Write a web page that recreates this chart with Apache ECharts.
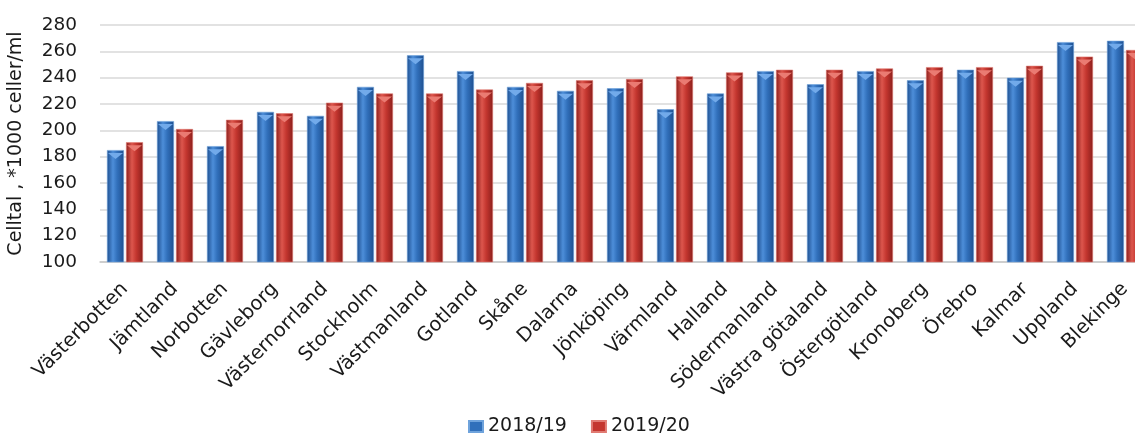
<!DOCTYPE html>
<html>
<head>
<meta charset="utf-8">
<script src="https://cdn.jsdelivr.net/npm/echarts@6/dist/echarts.min.js"></script>
<style>
html,body{margin:0;padding:0;background:#fff;}
#chart{width:1135px;height:434px;}
</style>
</head>
<body>
<div id="chart"></div>
<script>
var categories = ['Västerbotten','Jämtland','Norbotten','Gävleborg','Västernorrland','Stockholm','Västmanland','Gotland','Skåne','Dalarna','Jönköping','Värmland','Halland','Södermanland','Västra götaland','Östergötland','Kronoberg','Örebro','Kalmar','Uppland','Blekinge'];
var values2018 = [185,207,188,214,211,233,257,245,233,230,232,216,228,245,235,245,238,246,240,267,268];
var values2019 = [191,201,208,213,221,228,228,231,236,238,239,241,244,246,246,247,248,248,249,256,261];
var seriesNames = ['2018/19','2019/20'];
var yTicks = {min:100, max:280, interval:20};
var yTitle = 'Celltal , *1000 celler/ml';

function grad(dark, mid, light){
  return new echarts.graphic.LinearGradient(0,0,1,0,[
    {offset:0,color:dark},{offset:0.35,color:light},{offset:0.6,color:mid},{offset:1,color:dark}
  ]);
}
var blue = grad('#1f4f8f','#3170bb','#4d8ed9');
var red = grad('#8a1f1c','#c4362f','#dc564d');
var font = 'DejaVu Sans';
var chart = echarts.init(document.getElementById('chart'));
chart.setOption({
  animation:false,
  textStyle:{fontFamily:font},
  grid:{left:100, top:25, width:1050, height:237, containLabel:false, outerBoundsMode:'none'},
  legend:{
    data:[{name:seriesNames[0],itemStyle:{color:'#3170bb'}},{name:seriesNames[1],itemStyle:{color:'#c4362f'}}],
    left:468, top:417, padding:0, itemWidth:14, itemHeight:11, itemGap:24, icon:'rect',
    textStyle:{fontFamily:font,fontSize:19,color:'#1a1a1a'}
  },
  xAxis:{
    type:'category', data:categories,
    axisLine:{lineStyle:{color:'#c8c8c8',width:1.5}},
    axisTick:{show:false},
    axisLabel:{interval:0, rotate:45, margin:24, padding:[20,0,0,0], fontFamily:font, fontSize:19.5, color:'#1a1a1a'}
  },
  yAxis:{
    type:'value', min:yTicks.min, max:yTicks.max, interval:yTicks.interval,
    name:yTitle, nameLocation:'middle', nameGap:74,
    nameTextStyle:{fontFamily:font,fontSize:19,color:'#1a1a1a'},
    axisLine:{show:false}, axisTick:{show:false},
    axisLabel:{margin:23, fontFamily:font, fontSize:18.5, color:'#1a1a1a'},
    splitLine:{lineStyle:{color:'#d9d9d9',width:1.5}}
  },
  series:[
    {name:seriesNames[0], type:'bar', data:values2018, barWidth:17, barGap:'12%',
     itemStyle:{color:blue, borderColor:'#6fa3dc', borderWidth:0.6}},
    {name:seriesNames[1], type:'bar', data:values2019, barWidth:17, barGap:'12%',
     itemStyle:{color:red, borderColor:'#e07a72', borderWidth:0.6}},
    {name:seriesNames[0], type:'pictorialBar', data:values2018, barWidth:17, barGap:'12%', silent:true,
     symbol:'triangle', symbolRotate:180, symbolSize:[15,6], symbolPosition:'end', symbolOffset:[0,'50%'], z:3,
     itemStyle:{color:'#72aaea'}},
    {name:seriesNames[1], type:'pictorialBar', data:values2019, barWidth:17, barGap:'12%', silent:true,
     symbol:'triangle', symbolRotate:180, symbolSize:[15,6], symbolPosition:'end', symbolOffset:[0,'50%'], z:3,
     itemStyle:{color:'#ea7b72'}}
  ]
});
</script>
</body>
</html>
